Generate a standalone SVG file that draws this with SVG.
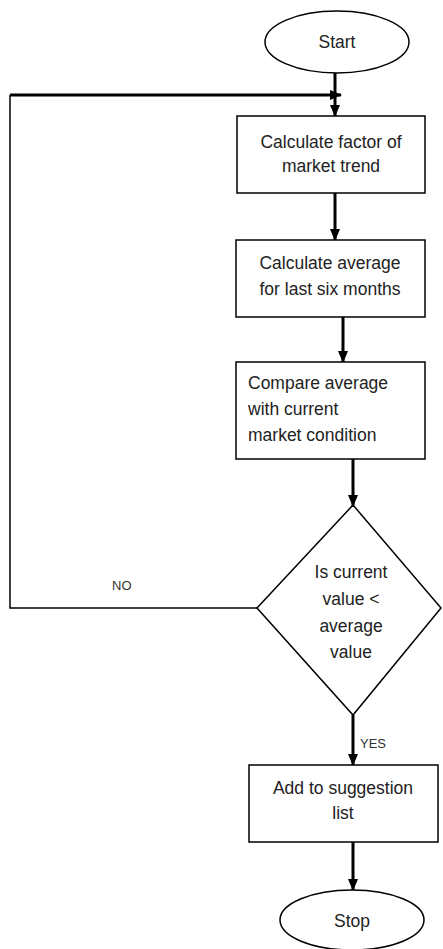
<svg xmlns="http://www.w3.org/2000/svg" width="443" height="949" viewBox="0 0 443 949">
<defs>
<style>
.shape{fill:#fff;stroke:#000;stroke-width:1.5}
.txt{font-family:"Liberation Sans",Arial,sans-serif;font-size:17.5px;fill:#222;text-anchor:middle}
.txtl{font-family:"Liberation Sans",Arial,sans-serif;font-size:17.5px;fill:#222;text-anchor:start}
.lbl{font-family:"Liberation Sans",Arial,sans-serif;font-size:13px;fill:#333}
.thick{fill:none;stroke:#000;stroke-width:3}
.thin{fill:none;stroke:#000;stroke-width:1.5}
</style>
<marker id="ah" markerWidth="12" markerHeight="10" refX="11" refY="5" orient="auto" markerUnits="userSpaceOnUse">
<path d="M0,0 L12,5 L0,10 Z" fill="#000"/>
</marker>
</defs>
<rect width="443" height="949" fill="#fff"/>
<g id="connectors">
<path class="thick" d="M335,73 L335,116" marker-end="url(#ah)"/>
<path class="thin" d="M257,608 L10,608 L10,95"/>
<path class="thick" d="M10,95 L341,95" marker-end="url(#ah)"/>
<path class="thick" d="M335,193 L335,240" marker-end="url(#ah)"/>
<path class="thick" d="M343,317 L343,362" marker-end="url(#ah)"/>
<path class="thick" d="M353,459 L353,506" marker-end="url(#ah)"/>
<path class="thick" d="M353,715 L353,765" marker-end="url(#ah)"/>
<path class="thick" d="M353,842 L353,890" marker-end="url(#ah)"/>
<text class="lbl" x="112" y="590">NO</text>
<text class="lbl" x="360" y="748">YES</text>
</g>
<g id="start">
<ellipse class="shape" cx="337" cy="42" rx="72" ry="31"/>
<text class="txt" x="337" y="48">Start</text>
</g>
<g id="calc-factor">
<rect class="shape" x="237" y="116" width="188" height="77"/>
<text class="txt" x="331" y="148">Calculate factor of</text>
<text class="txt" x="331" y="172">market trend</text>
</g>
<g id="calc-average">
<rect class="shape" x="236" y="240" width="189" height="77"/>
<text class="txt" x="330" y="269">Calculate average</text>
<text class="txt" x="330" y="295">for last six months</text>
</g>
<g id="compare">
<rect class="shape" x="236" y="362" width="189" height="97"/>
<text class="txtl" x="248" y="389">Compare average</text>
<text class="txtl" x="248" y="415">with current</text>
<text class="txtl" x="248" y="441">market condition</text>
</g>
<g id="decision">
<polygon class="shape" points="353,505 441,608 353,715 257,608"/>
<text class="txt" x="351" y="578">Is current</text>
<text class="txt" x="351" y="605">value &lt;</text>
<text class="txt" x="351" y="632">average</text>
<text class="txt" x="351" y="658">value</text>
</g>
<g id="add-suggestion">
<rect class="shape" x="249" y="765" width="189" height="77"/>
<text class="txt" x="343" y="794">Add to suggestion</text>
<text class="txt" x="343" y="819">list</text>
</g>
<g id="stop">
<ellipse class="shape" cx="352" cy="920" rx="72" ry="30"/>
<text class="txt" x="352" y="927">Stop</text>
</g>
</svg>
